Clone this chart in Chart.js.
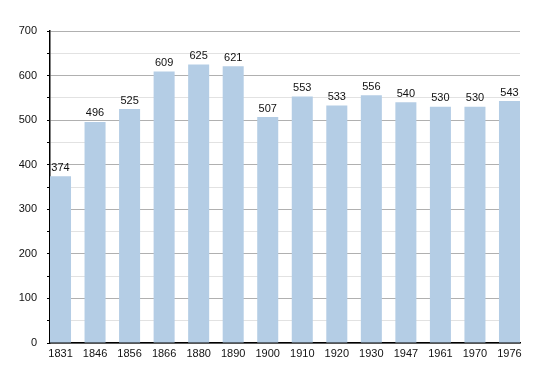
<!DOCTYPE html>
<html>
<head>
<meta charset="utf-8">
<script src="https://cdn.jsdelivr.net/npm/chart.js@4"></script>
<style>
  html, body { margin: 0; padding: 0; background: #fff; }
  #wrap { width: 550px; height: 373px; }
</style>
</head>
<body>
<div id="wrap"><canvas id="chart" width="550" height="373"></canvas></div>
<script>
// ─── Données ──────────────────────────────────────────────────────────────────
const annees      = ['1831', '1846', '1856', '1866', '1880', '1890', '1900',
                     '1910', '1920', '1930', '1947', '1961', '1970', '1976'];
const population  = [374, 496, 525, 609, 625, 621, 507, 553, 533, 556, 540, 530, 530, 543];
const ticksY      = [0, 100, 200, 300, 400, 500, 600, 700];

const COULEUR_BARRE = '#b4cde5';
const POLICE = 'Liberation Sans, Arial, sans-serif';

// largeur d'une barre relative à l'écart entre deux barres
const RAPPORT_BARRE = 21 / 34.5;
const demi = RAPPORT_BARRE / 2;

// Valeurs au-dessus des barres
const etiquettesValeurs = {
  id: 'etiquettesValeurs',
  afterDatasetsDraw(chart) {
    const { ctx } = chart;
    const meta = chart.getDatasetMeta(0);
    ctx.save();
    ctx.font = `11px ${POLICE}`;
    ctx.fillStyle = '#111';
    ctx.textAlign = 'center';
    ctx.textBaseline = 'bottom';
    meta.data.forEach((bar, i) => {
      ctx.fillText(String(population[i]), bar.x, bar.y - 3);
    });
    ctx.restore();
  },
};

new Chart(document.getElementById('chart'), {
  type: 'bar',
  data: {
    datasets: [{
      data: population.map((v, i) => ({ x: i, y: v })),
      backgroundColor: COULEUR_BARRE,
      borderWidth: 0,
      barPercentage: 1,
      categoryPercentage: RAPPORT_BARRE,
    }],
  },
  options: {
    responsive: false,
    animation: false,
    layout: { padding: { top: 31, right: 30, bottom: 0, left: 0 } },
    plugins: { legend: { display: false }, tooltip: { enabled: false } },
    scales: {
      x: {
        type: 'linear',
        min: -demi,
        max: annees.length - 1 + demi,
        offset: false,
        afterBuildTicks: s => { s.ticks = annees.map((_, i) => ({ value: i })); },
        afterFit: s => { s.height = 30; },
        grid: { display: false, drawTicks: false },
        border: { display: true, color: '#000', width: 1.5 },
        ticks: {
          callback: v => annees[v] ?? '',
          color: '#111',
          font: { family: POLICE, size: 11 },
          padding: 4,
          maxRotation: 0,
          autoSkip: false,
        },
      },
      y: {
        min: 0,
        max: 700,
        afterBuildTicks: s => {
          const t = [];
          for (let v = 0; v <= 700; v += 50) t.push({ value: v });
          s.ticks = t;
        },
        afterFit: s => { s.width = 50; },
        grid: {
          color: c => (c.tick.value % 100 === 0 ? '#b0b0b0' : '#e2e2e2'),
          tickColor: '#000',
          tickLength: 3,
          lineWidth: 1,
        },
        border: { display: true, color: '#000', width: 1.5 },
        ticks: {
          callback: v => (ticksY.includes(v) ? String(v) : ''),
          color: '#111',
          font: { family: POLICE, size: 11 },
          padding: 10,
        },
      },
    },
  },
  plugins: [etiquettesValeurs],
});
</script>
</body>
</html>
